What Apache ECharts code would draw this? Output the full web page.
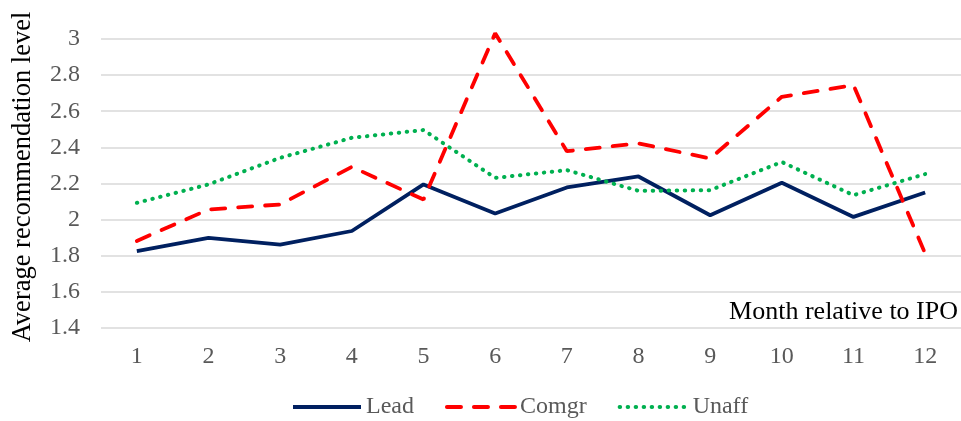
<!DOCTYPE html>
<html>
<head>
<meta charset="utf-8">
<script src="https://cdn.jsdelivr.net/npm/echarts@6/dist/echarts.min.js"></script>
<style>html,body{margin:0;padding:0;background:#fff}#c{width:961px;height:421px}</style>
</head>
<body>
<div id="c"></div>
<script>
const months = ['1','2','3','4','5','6','7','8','9','10','11','12'];
const lead  = [1.826, 1.899, 1.862, 1.937, 2.195, 2.034, 2.178, 2.239, 2.024, 2.204, 2.015, 2.150];
const comgr = [1.882, 2.056, 2.084, 2.292, 2.111, 3.032, 2.379, 2.422, 2.339, 2.680, 2.745, 1.812];
const unaff = [2.093, 2.195, 2.342, 2.453, 2.496, 2.231, 2.274, 2.159, 2.163, 2.319, 2.135, 2.252];
const yTicks = { min: 1.4, max: 3.0, step: 0.2 };
const yTitle = 'Average recommendation level';
const xTitle = 'Month relative to IPO';

const font = '"Liberation Serif", "Times New Roman", serif';
const chart = echarts.init(document.getElementById('c'), null, {renderer: 'canvas'});
chart.setOption({
  animation: false,
  backgroundColor: '#fff',
  grid: { left: 101, right: -3, top: 39, bottom: 93, containLabel: false },
  xAxis: {
    type: 'category',
    data: months,
    boundaryGap: true,
    axisLine: { show: false },
    axisTick: { show: false },
    axisLabel: { color: '#595959', fontFamily: font, fontSize: 24, margin: 17 }
  },
  yAxis: {
    type: 'value',
    min: yTicks.min, max: yTicks.max, interval: yTicks.step,
    axisLine: { show: false },
    axisTick: { show: false },
    axisLabel: { color: '#595959', fontFamily: font, fontSize: 24, margin: 21,
      formatter: v => (Math.round(v * 10) / 10).toString() },
    splitLine: { lineStyle: { color: '#d9d9d9', width: 1.5 } }
  },
  legend: {
    left: 291, top: 395, padding: 0,
    itemWidth: 68, itemHeight: 14, itemGap: 31,
    itemStyle: { opacity: 0 },
    lineStyle: { width: 4 },
    textStyle: { color: '#595959', fontFamily: font, fontSize: 24 },
    data: ['Lead', 'Comgr', 'Unaff']
  },
  graphic: [{
    type: 'text', right: 3, top: 299,
    style: { text: xTitle, fill: '#000', font: '26px ' + font }
  }, {
    type: 'text', x: 23, y: 177, rotation: Math.PI / 2,
    style: { text: yTitle, fill: '#000', font: '26.5px ' + font,
      align: 'center', verticalAlign: 'middle' }
  }],
  series: [
    { name: 'Lead', type: 'line', data: lead, symbol: 'none', clip: false,
      color: '#002060',
      lineStyle: { color: '#002060', width: 3.8 } },
    { name: 'Comgr', type: 'line', data: comgr, symbol: 'none', clip: false,
      color: '#ff0000',
      lineStyle: { color: '#ff0000', width: 3.8, type: [14, 13], cap: 'round' } },
    { name: 'Unaff', type: 'line', data: unaff, symbol: 'none', clip: false,
      color: '#00b050',
      lineStyle: { color: '#00b050', width: 4, type: [0.5, 7.5], cap: 'round' } }
  ]
});
</script>
</body>
</html>
